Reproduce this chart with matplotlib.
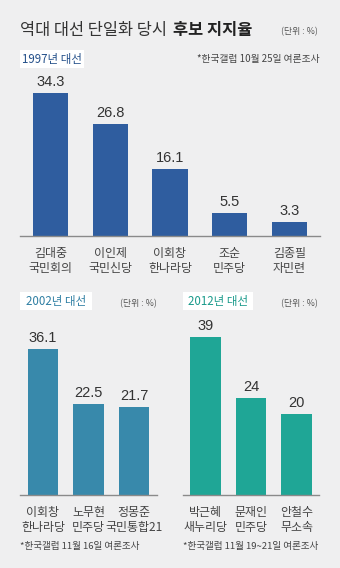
import matplotlib
matplotlib.use("Agg")
import matplotlib.pyplot as plt
from matplotlib.patches import Rectangle
from matplotlib.text import Annotation

# 데이터
names_97 = ["김대중\n국민회의", "이인제\n국민신당", "이회창\n한나라당", "조순\n민주당", "김종필\n자민련"]
values_97 = [34.3, 26.8, 16.1, 5.5, 3.3]

names_02 = ["이회창\n한나라당", "노무현\n민주당", "정몽준\n국민통합21"]
values_02 = [36.1, 22.5, 21.7]

names_12 = ["박근혜\n새누리당", "문재인\n민주당", "안철수\n무소속"]
values_12 = [39, 24, 20]

W, H = 340, 568
BG = "#efeff0"
KR = ["Noto Sans CJK KR", "DejaVu Sans"]
NUM = ["Liberation Sans Narrow", "Liberation Sans", "DejaVu Sans"]

plt.rcParams["font.family"] = KR

fig = plt.figure(figsize=(W / 100, H / 100), dpi=100)
fig.patch.set_facecolor(BG)


# 픽셀 좌표 -> figure 좌표
def px(x, y):
    return x / W, 1 - y / H


def add_ax(x0, x1, y_top, y_base):
    ax = fig.add_axes([x0 / W, 1 - y_base / H, (x1 - x0) / W, (y_base - y_top) / H])
    ax.set_facecolor("none")
    for s in ["top", "right", "left"]:
        ax.spines[s].set_visible(False)
    ax.spines["bottom"].set_color("#8a8a8a")
    ax.spines["bottom"].set_linewidth(1.0)
    ax.set_yticks([])
    ax.tick_params(axis="x", length=0, pad=8)
    return ax


def draw_bars(ax, names, values, color, width, xlim, ymax, fmt):
    xs = list(range(len(values)))
    bars = ax.bar(xs, values, width=width, color=color)
    ax.set_xlim(*xlim)
    ax.set_ylim(0, ymax)
    ax.set_xticks(xs)
    ax.set_xticklabels(names, fontsize=8.6, color="#444444", linespacing=1.2)
    for b, v in zip(bars, values):
        ax.annotate(fmt(v), (b.get_x() + b.get_width() / 2, v),
                    xytext=(0, 3), textcoords="offset points",
                    ha="center", va="bottom", fontsize=10.5,
                    color="#333333", family=NUM)


def label_box(x0, x1, y0, y1, text, color):
    fig.patches.append(Rectangle(px(x0, y1), (x1 - x0) / W, (y1 - y0) / H,
                                 transform=fig.transFigure, facecolor="white",
                                 edgecolor="none"))
    fig.text(*px((x0 + x1) / 2, (y0 + y1) / 2), text, ha="center", va="center",
             fontsize=8.3, color=color)


# 제목 (일반 + 굵게)
t1 = fig.text(*px(20, 30), "역대 대선 단일화 당시", fontsize=11.8, color="#333333",
              va="center", ha="left")
fig.add_artist(Annotation("후보 지지율", xy=(1, 0.5), xycoords=t1, xytext=(4, 0),
                          textcoords="offset points", fontsize=11.8,
                          color="#222222", va="center", ha="left",
                          fontweight="bold", annotation_clip=False))
fig.text(*px(318, 32), "(단위 : %)", fontsize=6.4, color="#555555",
         va="center", ha="right")

# 1997
label_box(20, 84, 50, 68, "1997년 대선", "#24508a")
fig.text(*px(320, 59), "*한국갤럽 10월 25일 여론조사", fontsize=7,
         color="#444444", va="center", ha="right")
ax1 = add_ax(20, 320, 86, 236)
draw_bars(ax1, names_97, values_97, "#2f5d9f", 0.59, (-0.51, 4.51), 36,
          lambda v: f"{v:.1f}")

# 2002
label_box(20, 92, 292, 310, "2002년 대선", "#2f7fa3")
fig.text(*px(157, 304), "(단위 : %)", fontsize=6.4, color="#555555",
         va="center", ha="right")
ax2 = add_ax(20, 157, 333, 495)
draw_bars(ax2, names_02, values_02, "#3889ab", 0.68, (-0.505, 2.505), 40,
          lambda v: f"{v:.1f}")
fig.text(*px(20, 547), "*한국갤럽 11월 16일 여론조사", fontsize=6.9,
         color="#444444", va="center", ha="left")

# 2012
label_box(183, 253, 292, 310, "2012년 대선", "#1a9a8b")
fig.text(*px(318, 304), "(단위 : %)", fontsize=6.4, color="#555555",
         va="center", ha="right")
ax3 = add_ax(183, 319, 333, 495)
draw_bars(ax3, names_12, values_12, "#1fa696", 0.68, (-0.495, 2.495), 40,
          lambda v: f"{v:g}")
fig.text(*px(183, 547), "*한국갤럽 11월 19~21일 여론조사", fontsize=6.9,
         color="#444444", va="center", ha="left")

fig.savefig("out.png", dpi=100, facecolor=BG)
